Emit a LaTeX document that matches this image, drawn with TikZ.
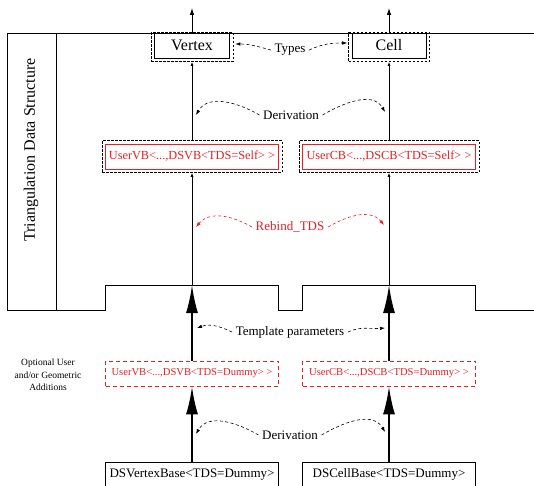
\documentclass[tikz,border=0pt]{standalone}
\usepackage{fontspec}
\setmainfont{Liberation Serif}
\usepackage{tikz}
\usetikzlibrary{arrows.meta,fit,calc,backgrounds}
\definecolor{tdsred}{RGB}{226,32,38}

\begin{document}
\begin{tikzpicture}[x=1pt,y=1pt,line width=0.8pt]
      \tikzstyle{typebox} = [draw,minimum width=75pt,minimum height=25pt,inner sep=0pt,font=\fontsize{16}{19}\selectfont]
      \tikzstyle{selfbox} = [draw=tdsred,text=tdsred,minimum width=173pt,minimum height=25pt,inner sep=0pt,font=\fontsize{12.3}{14}\selectfont]
      \tikzstyle{dummybox} = [draw=tdsred,text=tdsred,dash pattern=on 4pt off 3pt,minimum width=173pt,minimum height=25pt,inner sep=0pt,font=\fontsize{10.6}{12}\selectfont]
      \tikzstyle{basebox} = [draw,minimum width=173pt,minimum height=25pt,inner sep=0pt,font=\fontsize{13}{15}\selectfont]
      \tikzstyle{surround} = [draw,dash pattern=on 2.5pt off 1.5pt,inner sep=3pt]
      \tikzstyle{relation} = [font=\fontsize{13}{15}\selectfont]
      \tikzstyle{curved} = [dash pattern=on 3pt off 2.5pt,line width=0.6pt,-{Latex[length=5pt,width=3.5pt]}]
      \tikzstyle{thinarrow} = [-{Latex[length=7pt,width=4.5pt]}]
      \tikzstyle{tinyarrow} = [-{Latex[length=4pt,width=3pt]}]
      \tikzstyle{bigarrow} = [line width=2pt,-{Latex[length=28pt,width=12pt]}]
      %
      \useasboundingbox (0,0) rectangle (534,485);
      % Frame of the data structure.
      \draw (534,452) -- (7,452) -- (7,175) -- (105,175) -- (105,200) -- (278,200) -- (278,175)
            -- (302,175) -- (302,200) -- (475,200) -- (475,175) -- (534,175);
      \draw (56,452) -- (56,175);
      \node[rotate=90,font=\fontsize{16}{19}\selectfont] (tds) at (31,335) {Triangulation Data Structure};
      \node[align=center,font=\fontsize{9.5}{12.5}\selectfont] (optional) at (48,110) {Optional User\\and/or Geometric\\Additions};

      % Types.
      \node[typebox] (vertex) at (192,439.5) {Vertex};
      \node[typebox,minimum width=74pt] (cell) at (389,439.5) {Cell};
      \node[surround,inner sep=0pt,fit={($(vertex.north west)+(-3,0)$) ($(vertex.south east)+(3,-3)$)}] (vertexout) {};
      \node[surround,inner sep=0pt,fit={($(cell.north west)+(-3,0)$) ($(cell.south east)+(3,-3)$)}] (cellout) {};

      % Rebound bases.
      \node[selfbox] (selfV) at (192,328.5) {UserVB<...,DSVB<TDS=Self> >};
      \node[selfbox] (selfC) at (389,328.5) {UserCB<...,DSCB<TDS=Self> >};
      \node[surround,fit=(selfV)] (selfVout) {};
      \node[surround,fit=(selfC)] (selfCout) {};

      % Optional user bases.
      \node[dummybox] (dummyV) at (192,111.5) {UserVB<...,DSVB<TDS=Dummy> >};
      \node[dummybox] (dummyC) at (389,111.5) {UserCB<...,DSCB<TDS=Dummy> >};

      % Data structure bases.
      \node[basebox] (baseV) at (192,10.5) {DSVertexBase<TDS=Dummy>};
      \node[basebox] (baseC) at (389,10.5) {DSCellBase<TDS=Dummy>};

      \coordinate (vtop) at (192,477);
      \coordinate (ctop) at (389,477);
      \coordinate (vstep) at (192,200);
      \coordinate (cstep) at (389,200);

      % Draw columns.
      \draw[thinarrow] (vertex.north) -- (vtop);
      \draw[thinarrow] (cell.north) -- (ctop);
      \draw[tinyarrow] (selfVout.north) -- (vertexout.south);
      \draw[tinyarrow] (selfCout.north) -- (cellout.south);
      \draw[tinyarrow] (vstep) -- (selfVout.south);
      \draw[tinyarrow] (cstep) -- (selfCout.south);
      \draw[bigarrow] (dummyV.north) -- (vstep);
      \draw[bigarrow] (dummyC.north) -- (cstep);
      \draw[bigarrow] (baseV.north) -- (dummyV.south);
      \draw[bigarrow] (baseC.north) -- (dummyC.south);

      % Relations between the columns.
      \node[relation] (types) at (290,435) {Types};
      \node[relation] (derivtop) at (291,370) {Derivation};
      \node[relation,text=tdsred] (rebind) at (290,258) {Rebind\_TDS};
      \node[relation] (template) at (290,153) {Template parameters};
      \node[relation] (derivbot) at (290,50) {Derivation};

      \coordinate (dtl) at (196,370);
      \coordinate (dtr) at (385,373);
      \coordinate (rbl) at (196,258);
      \coordinate (rbr) at (384,260);
      \coordinate (tpl) at (197,157);
      \coordinate (tpr) at (385,157);
      \coordinate (dbl) at (196,51);
      \coordinate (dbr) at (385,53);

      \draw[curved] (types.west) to[out=165,in=0] ($(vertexout.east)+(2,3)$);
      \draw[curved] (types.east) to[out=25,in=180] ($(cellout.west)+(-1,4)$);
      \draw[curved] (derivtop.west) to[out=150,in=60] (dtl);
      \draw[curved] (derivtop.east) to[out=30,in=120] (dtr);
      \draw[curved,tdsred] (rebind.west) to[out=150,in=50] (rbl);
      \draw[curved,tdsred] (rebind.east) to[out=30,in=130] (rbr);
      \draw[curved] (template.west) to[out=155,in=20] (tpl);
      \draw[curved] (template.east) to[out=25,in=185] (tpr);
      \draw[curved] (derivbot.west) to[out=150,in=60] (dbl);
      \draw[curved] (derivbot.east) to[out=30,in=120] (dbr);
      %
\end{tikzpicture}
\end{document}
